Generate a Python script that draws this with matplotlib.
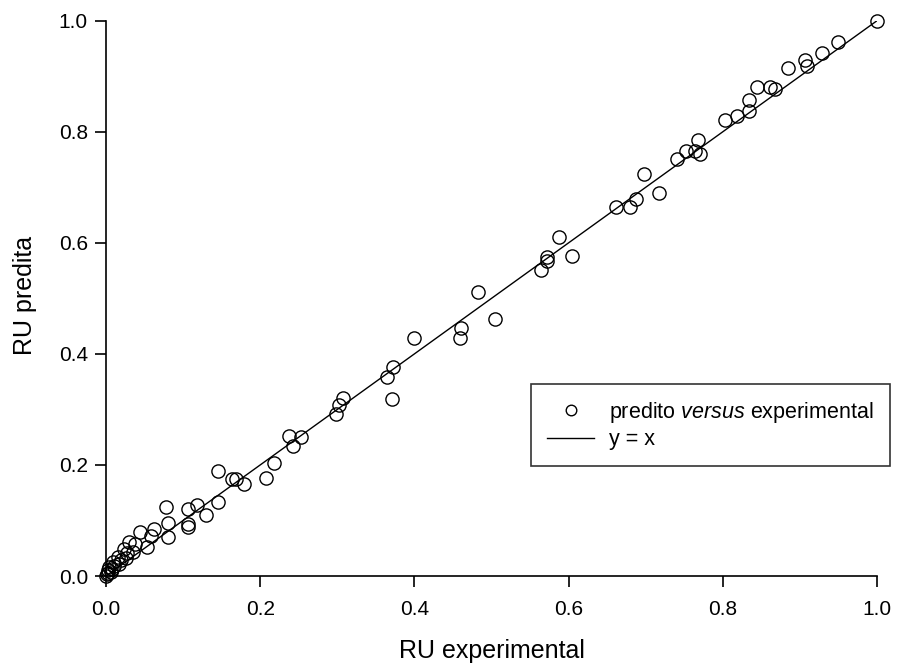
import matplotlib
matplotlib.use("Agg")
import matplotlib.pyplot as plt

plt.rcParams["font.family"] = ["Liberation Sans", "DejaVu Sans"]
plt.rcParams["mathtext.fontset"] = "custom"
plt.rcParams["mathtext.rm"] = "Liberation Sans"
plt.rcParams["mathtext.it"] = "Liberation Sans:italic"

# RU experimental / RU predita
ru_exp = [0.000, 0.001, 0.002, 0.003, 0.004, 0.006, 0.008, 0.009, 0.011, 0.015,
          0.017, 0.020, 0.024, 0.026, 0.027, 0.030, 0.035, 0.038, 0.044, 0.053,
          0.058, 0.062, 0.078, 0.080, 0.081, 0.106, 0.107, 0.107, 0.118, 0.130,
          0.145, 0.145, 0.163, 0.169, 0.179, 0.207, 0.218, 0.238, 0.243, 0.253,
          0.298, 0.302, 0.307, 0.365, 0.371, 0.372, 0.400, 0.459, 0.461, 0.482,
          0.504, 0.564, 0.572, 0.572, 0.588, 0.604, 0.662, 0.680, 0.687, 0.698,
          0.717, 0.740, 0.752, 0.764, 0.768, 0.770, 0.803, 0.818, 0.834, 0.834,
          0.844, 0.861, 0.868, 0.885, 0.907, 0.909, 0.929, 0.949, 1.000]
ru_pred = [0.000, 0.003, 0.006, 0.011, 0.017, 0.008, 0.013, 0.026, 0.018, 0.035,
           0.021, 0.028, 0.048, 0.032, 0.042, 0.062, 0.044, 0.058, 0.079, 0.052,
           0.072, 0.085, 0.124, 0.095, 0.071, 0.088, 0.093, 0.121, 0.127, 0.109,
           0.190, 0.134, 0.174, 0.174, 0.165, 0.176, 0.204, 0.252, 0.235, 0.251,
           0.292, 0.308, 0.320, 0.359, 0.319, 0.377, 0.428, 0.429, 0.447, 0.512,
           0.462, 0.551, 0.568, 0.575, 0.610, 0.577, 0.664, 0.664, 0.679, 0.724,
           0.690, 0.751, 0.766, 0.765, 0.786, 0.760, 0.822, 0.829, 0.837, 0.858,
           0.881, 0.881, 0.877, 0.914, 0.930, 0.918, 0.942, 0.961, 1.000]
reta = [0.0, 1.0]

fig = plt.figure(figsize=(8.99, 6.69), dpi=100)
ax = fig.add_axes([0.1179, 0.139, 0.8576, 0.830])

ax.plot(ru_exp, ru_pred, "o", mfc="none", mec="black", ms=9.5, mew=1.0,
        label=r"predito $\it{versus}$ experimental", clip_on=False, zorder=3)
ax.plot(reta, reta, "-", color="black", lw=1.0, label="y = x")

ax.set_xlim(0, 1)
ax.set_ylim(0, 1)
ticks = [0.0, 0.2, 0.4, 0.6, 0.8, 1.0]
ax.set_xticks(ticks)
ax.set_yticks(ticks)
ax.set_xticklabels(["%.1f" % t for t in ticks])
ax.set_yticklabels(["%.1f" % t for t in ticks])

for lado in ["top", "right"]:
    ax.spines[lado].set_visible(False)
for lado in ["left", "bottom"]:
    ax.spines[lado].set_linewidth(1.2)

ax.tick_params(axis="both", direction="out", length=8, width=1.2, labelsize=15)
ax.tick_params(axis="x", pad=9)
ax.tick_params(axis="y", pad=5)

ax.set_xlabel("RU experimental", fontsize=18)
ax.set_ylabel("RU predita", fontsize=18)
ax.xaxis.set_label_coords(0.5, -0.113)
ax.yaxis.set_label_coords(-0.089, 0.505)

leg = ax.legend(loc="upper left", bbox_to_anchor=(0.551, 0.346), fontsize=15.5,
                frameon=True, fancybox=False, edgecolor="black", markerscale=0.8,
                handlelength=2.2, borderpad=0.75, labelspacing=0.2,
                handletextpad=0.7, borderaxespad=0)
leg.get_frame().set_linewidth(1.2)

fig.savefig("out.png", dpi=100)
